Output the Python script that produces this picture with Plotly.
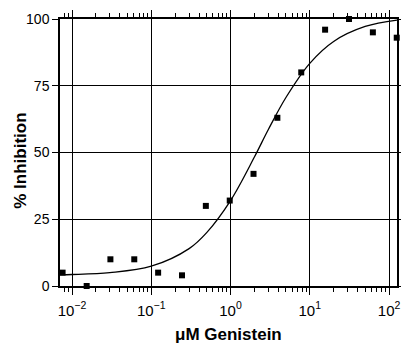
import plotly.graph_objects as go
import numpy as np

# Measured data (µM genistein vs % inhibition)
conc = [0.0076, 0.0153, 0.0305, 0.061, 0.122, 0.244, 0.488, 0.977, 1.95, 3.9, 7.8, 15.6, 31.25, 62.5, 125]
inhib = [5, 0, 10, 10, 5, 4, 30, 32, 42, 63, 80, 96, 100, 95, 93]

# Fitted curve
curve_x = [0.00705, 0.01, 0.03, 0.1, 0.3, 0.5, 1, 2, 3, 5, 10, 20, 50, 126]
curve_y = [4.2, 4.3, 5.0, 7.4, 14.0, 20.0, 32.0, 48.3, 58.6, 70.6, 83.4, 91.6, 97.2, 99.6]

x_tickvals = [0.01, 0.1, 1, 10, 100]
x_ticktext = ["10<sup>−2</sup>", "10<sup>−1</sup>", "10<sup>0</sup>", "10<sup>1</sup>", "10<sup>2</sup>"]
y_ticks = [0, 25, 50, 75, 100]

fig = go.Figure()
fig.add_trace(go.Scatter(x=curve_x, y=curve_y, mode="lines", line=dict(color="black", width=1.3, shape="spline"),
                         hoverinfo="skip", showlegend=False))
fig.add_trace(go.Scatter(x=conc, y=inhib, mode="markers",
                         marker=dict(symbol="square", size=6, color="black"),
                         showlegend=False, cliponaxis=False))

font = "Liberation Sans, Arial, sans-serif"
fig.update_layout(
    width=401, height=344,
    margin=dict(l=60, r=4, t=19, b=58, autoexpand=False),
    paper_bgcolor="white", plot_bgcolor="white",
    font=dict(family=font, size=14, color="black"),
    xaxis=dict(type="log", range=[np.log10(0.00705), np.log10(126)],
               tickvals=x_tickvals, ticktext=x_ticktext, automargin=False,
               showline=True, linecolor="black", linewidth=1.5, mirror="allticks",
               ticks="outside", ticklen=7, tickcolor="black", tickwidth=1,
               showgrid=True, gridcolor="black", gridwidth=1, zeroline=False,
               minor=dict(ticks="outside", ticklen=4, tickcolor="black", showgrid=False, dtick="D1"),
               tickfont=dict(size=15), ticklabelstandoff=3),
    yaxis=dict(range=[0, 100], tickvals=y_ticks, automargin=False,
               showline=True, linecolor="black", linewidth=1.5, mirror="allticks",
               ticks="outside", ticklen=6, tickcolor="black", tickwidth=1,
               showgrid=True, gridcolor="black", gridwidth=1, zeroline=False,
               tickfont=dict(size=14)),
    annotations=[
        dict(text="<b>μM Genistein</b>", xref="paper", yref="paper", x=0.5, y=-0.182,
             xanchor="center", yanchor="middle", showarrow=False, font=dict(size=17)),
        dict(text="<b>% Inhibition</b>", xref="paper", yref="paper", x=-0.118, y=0.47,
             xanchor="center", yanchor="middle", showarrow=False, textangle=-90,
             font=dict(size=17)),
    ],
)

fig.write_html("out.html", config={"displayModeBar": False},
               post_script="document.body.style.margin='0';document.body.style.padding='0';")
